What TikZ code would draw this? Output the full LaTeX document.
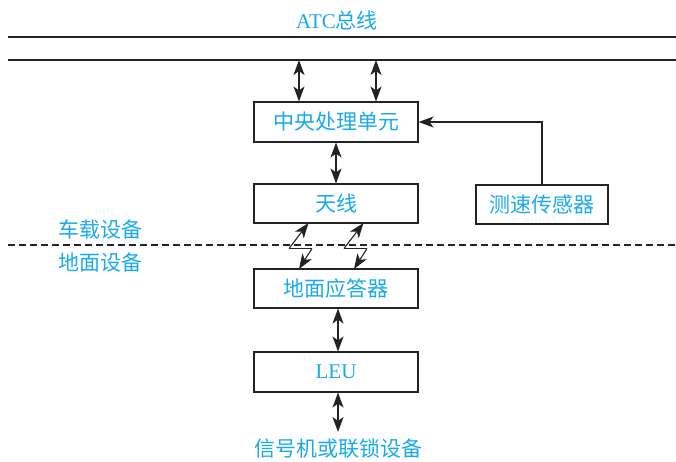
\documentclass[tikz,border=0pt]{standalone}
\usepackage{fontspec}
\setmainfont{Liberation Serif}
\newfontfamily\cjk{Noto Sans CJK SC}
\usetikzlibrary{arrows.meta}
\definecolor{txt}{RGB}{25,170,235}
\definecolor{ln}{RGB}{35,35,35}
\tikzset{
  tip/.tip={Stealth[length=15pt,width=11pt,inset=4pt]},
  box/.style={draw=ln, line width=1.1pt, minimum width=164pt, minimum height=40pt, inner sep=0pt, text=txt, font=\fontsize{21}{21}\selectfont},
  lbl/.style={text=txt, font=\fontsize{21}{21}\selectfont, inner sep=0pt},
  dbl/.style={draw=ln, line width=1.1pt, tip-tip},
  sgl/.style={draw=ln, line width=1.1pt, -tip},
}
\begin{document}
\begin{tikzpicture}[x=1pt,y=-1pt]
\useasboundingbox (0,0) rectangle (676,461);
% bus
\coordinate (b1l) at (8,37); \coordinate (b1r) at (676,37);
\coordinate (b2l) at (8,60); \coordinate (b2r) at (676,60);
\draw[ln, line width=1.3pt] (b1l) -- (b1r);
\draw[ln, line width=1.3pt] (b2l) -- (b2r);
\node[lbl] (atc) at (337,20) {ATC{\cjk 总线}};
% boxes
\node[box] (cpu) at (336,122) {\cjk 中央处理单元};
\node[box, minimum height=39pt] (ant) at (336,203.5) {\cjk 天线};
\node[box, minimum width=132pt, minimum height=39pt] (spd) at (542,204.5) {\cjk 测速传感器};
\node[box, minimum height=39pt] (bal) at (336,288.5) {\cjk 地面应答器};
\node[box] (leu) at (336,372) {LEU};
\node[lbl] (sig) at (338,449) {\cjk 信号机或联锁设备};
\node[lbl] (veh) at (100,229) {\cjk 车载设备};
\node[lbl] (gnd) at (100,263) {\cjk 地面设备};
% dashed
\coordinate (dl) at (8,245); \coordinate (dr) at (676,245);
\draw[ln, line width=1.1pt, dash pattern=on 7pt off 4pt] (dl) -- (dr);
% arrows bus-cpu
\coordinate (p1) at (299,60); \coordinate (p2) at (376,60);
\draw[dbl] (p1) -- (p1 |- cpu.north);
\draw[dbl] (p2) -- (p2 |- cpu.north);
\draw[dbl] (cpu.south) -- (ant.north);
\draw[dbl] ([xshift=2pt]bal.south) -- ([xshift=2pt]leu.north);
\coordinate (se) at (338,432);
\draw[dbl] ([xshift=2pt]leu.south) -- (se);
% speed sensor
\draw[sgl] (spd.north) |- (cpu.east);
% zigzags
\coordinate (z1a) at (289,248.5); \coordinate (z1b) at (312,248.5);
\coordinate (z2a) at (344,248.5); \coordinate (z2b) at (367,248.5);
\draw[sgl] (z1a) -- (308.5,223);
\draw[ln, line width=1.1pt] (z1a) -- (z1b);
\draw[sgl] (z1b) -- (299,269);
\draw[sgl] (z2a) -- (363.5,223);
\draw[ln, line width=1.1pt] (z2a) -- (z2b);
\draw[sgl] (z2b) -- (354,269);
\end{tikzpicture}
\end{document}
